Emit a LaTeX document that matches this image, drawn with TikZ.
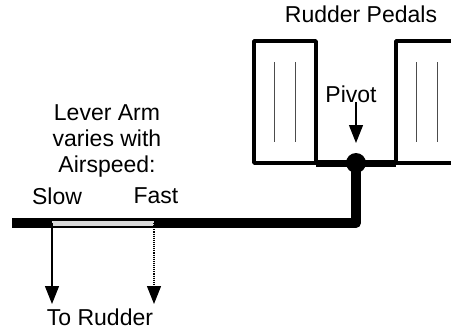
\documentclass[tikz,border=0pt]{standalone}
\usepackage{fontspec}
\setmainfont{Liberation Sans}
\usetikzlibrary{arrows.meta}
\tikzset{
  lbl/.style={inner sep=0pt,font=\fontsize{23}{26}\selectfont,align=center,text=black},
  pedal/.style={draw=black,line width=3.5pt,line join=round},
  rib/.style={draw=black!70,line width=1pt},
  force/.style={draw=black,line width=1.1pt,-{Triangle[length=18pt,width=14pt]}},
  forcedot/.style={force,densely dotted},
}
\begin{document}
\begin{tikzpicture}[x=1pt,y=-1pt]
\useasboundingbox (0,0) rectangle (451,330);
% pedals
\coordinate (lpA) at (254,41); \coordinate (lpB) at (316,163);
\draw[pedal] (lpA) rectangle (lpB);
\coordinate (rpA) at (396,41); \coordinate (rpB) at (396,163);
\coordinate (rpC) at (460,41); \coordinate (rpD) at (460,163);
\draw[pedal] (rpC) -- (rpA) -- (rpB) -- (rpD);
\coordinate (r1a) at (274.5,62); \coordinate (r1b) at (274.5,142);
\coordinate (r2a) at (295,62); \coordinate (r2b) at (295,142);
\coordinate (r3a) at (416.5,62); \coordinate (r3b) at (416.5,142);
\coordinate (r4a) at (437,62); \coordinate (r4b) at (437,142);
\draw[rib] (r1a) -- (r1b); \draw[rib] (r2a) -- (r2b);
\draw[rib] (r3a) -- (r3b); \draw[rib] (r4a) -- (r4b);
% linkage
\node[circle,fill=black,minimum size=20pt,inner sep=0pt] (pv) at (356,163) {};
\coordinate (barL) at (12,223); \coordinate (barR) at (356,223);
\draw[line width=7pt] (lpB) -- (rpB);
\draw[line width=10pt,line join=round] (barL) -- (barR) -- (pv.center);
% slot
\coordinate (slotL) at (52,223); \coordinate (slotR) at (154,223);
\draw[line width=5pt,draw=black!15] (slotL) -- (slotR);
% arrows
\coordinate (t1) at (52,304); \coordinate (t2) at (154,304);
\coordinate (pvTop) at (356,102); \coordinate (pvTip) at (356,143);
\draw[force] (slotL) -- (t1);
\draw[forcedot] (slotR) -- (t2);
\draw[force] (pvTop) -- (pvTip);
% labels
\node[lbl] (rp) at (361,14) {Rudder Pedals};
\node[lbl] (pt) at (351,94) {Pivot};
\node[lbl] (la) at (107,141) {Lever Arm\\varies with\\Airspeed:};
\node[lbl] (sl) at (57,196) {Slow};
\node[lbl] (fa) at (156,196) {Fast};
\node[lbl] (tr) at (100,317) {To Rudder};
\end{tikzpicture}
\end{document}
